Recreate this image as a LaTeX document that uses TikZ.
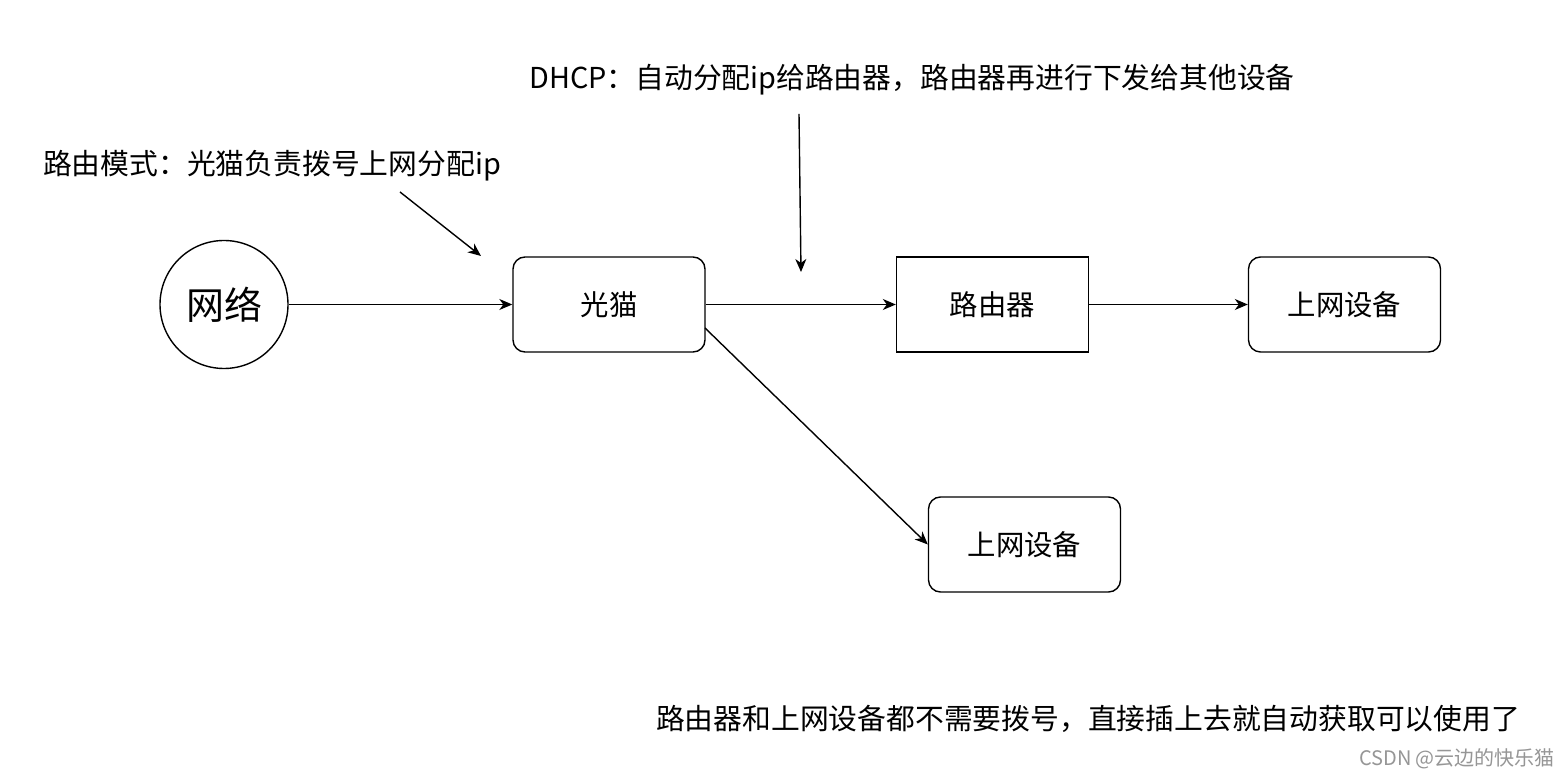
\documentclass[tikz,border=0pt]{standalone}
\usepackage{fontspec}
\setmainfont{Noto Sans CJK SC}
\usetikzlibrary{arrows.meta}
\definecolor{wm}{RGB}{150,150,150}
\begin{document}
\begin{tikzpicture}[x=0.5pt,y=-0.5pt,
  box/.style={draw, line width=0.7pt, minimum width=96pt, minimum height=47.5pt, inner sep=0pt, font=\fontsize{14.2}{16}\selectfont},
  rbox/.style={box, rounded corners=6pt},
  circ/.style={draw, line width=0.7pt, circle, minimum size=64pt, inner sep=0pt, font=\fontsize{19}{22}\selectfont},
  lbl/.style={inner sep=0pt, font=\fontsize{14.4}{16}\selectfont},
  conn/.style={line width=0.7pt, -{Stealth[length=6.5pt,width=5.5pt,inset=2pt]}}
]
\useasboundingbox (0,0) rectangle (1568,779);
\fill[white] (0,0) rectangle (1568,779);

\node[circ] (net) at (224,304.5) {网络};
\node[rbox] (modem) at (609,304.5) {光猫};
\node[box] (router) at (992.5,304.5) {路由器};
\node[rbox] (dev1) at (1344.5,304.5) {上网设备};
\node[rbox] (dev2) at (1024.5,544.5) {上网设备};

\node[lbl] (t1) at (272,166) {路由模式：光猫负责拨号上网分配ip};
\node[lbl] (t2) at (912,80) {DHCP：自动分配ip给路由器，路由器再进行下发给其他设备};
\node[lbl] (t3) at (1088,719) {路由器和上网设备都不需要拨号，直接插上去就自动获取可以使用了};
\node[inner sep=0pt, text=wm, font=\fontsize{10}{12}\selectfont] (wmk) at (1457,759) {CSDN @云边的快乐猫};

\draw[conn] (net) -- (modem);
\draw[conn] (modem) -- (router);
\draw[conn] (router) -- (dev1);
\coordinate (mc) at (705,328);
\draw[conn] (mc) -- (dev2.west);

\coordinate (a1s) at (400,192);
\coordinate (a1e) at (481,256);
\draw[conn] (a1s) -- (a1e);
\coordinate (a2s) at (799,114);
\coordinate (a2e) at (801,272);
\draw[conn] (a2s) -- (a2e);
\end{tikzpicture}
\end{document}
